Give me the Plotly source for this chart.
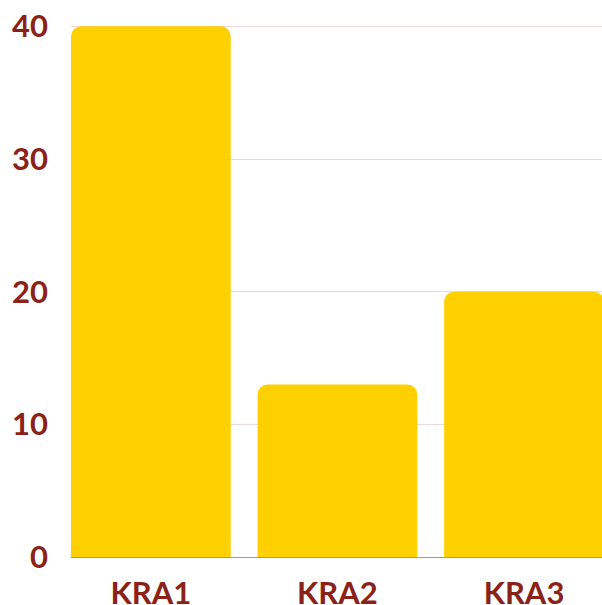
import plotly.graph_objects as go

categories = ["KRA1", "KRA2", "KRA3"]
values = [40, 13, 20]
y_ticks = [0, 10, 20, 30, 40]

text_color = "#8B2218"
bar_color = "#FFD000"

fig = go.Figure(
    go.Bar(
        x=list(range(len(categories))),
        y=values,
        width=0.856,
        marker=dict(color=bar_color, cornerradius=10, line=dict(width=0)),
        hoverinfo="skip",
    )
)

fig.update_layout(
    width=602,
    height=605,
    margin=dict(l=71, r=0, t=25, b=48, autoexpand=False),
    paper_bgcolor="white",
    plot_bgcolor="white",
    showlegend=False,
    font=dict(family="Lato", color=text_color),
)

fig.update_xaxes(
    range=[-0.428, 2.418],
    tickvals=list(range(len(categories))),
    ticktext=categories,
    tickfont=dict(family="Lato", size=31, color=text_color, weight="bold"),
    showgrid=False,
    showline=False,
    ticks="",
    automargin=False,
    ticklabelstandoff=15,
    ticklabeloverflow="allow",
)

fig.update_yaxes(
    range=[0, 40.1],
    tickvals=y_ticks,
    tickfont=dict(family="Lato", size=31, color=text_color, weight="bold"),
    showgrid=True,
    gridcolor="#EFD6D9",
    gridwidth=1,
    zeroline=True,
    zerolinecolor="#C08A8A",
    zerolinewidth=1,
    showline=False,
    ticks="",
    automargin=False,
    ticklabelstandoff=22,
    ticklabeloverflow="allow",
)

fig.write_html(
    "out.html",
    config={"displayModeBar": False},
    post_script="document.body.style.margin='0';document.body.style.overflow='hidden';",
)
